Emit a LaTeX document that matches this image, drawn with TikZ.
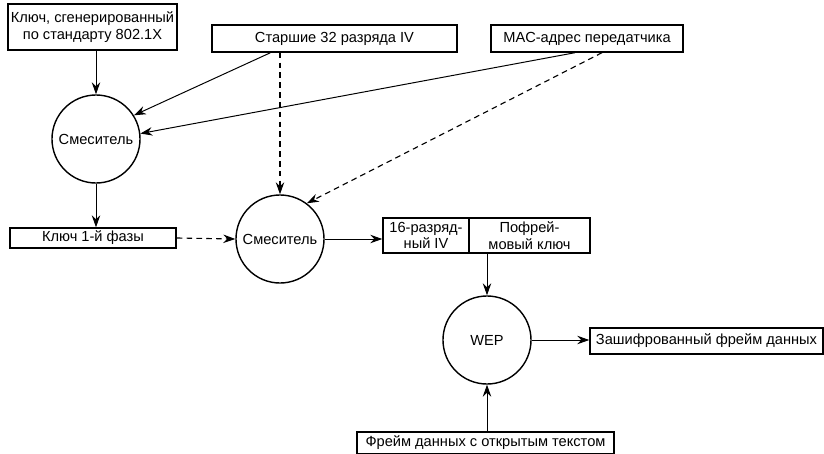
\documentclass[tikz,border=0pt]{standalone}
\usepackage{fontspec}
\setmainfont{Liberation Sans}
\usepackage{tikz}
\usetikzlibrary{arrows.meta,positioning}

\begin{document}
\begin{tikzpicture}[
  x=0.025cm, y=-0.025cm,
  >={Stealth[length=8.5pt,width=6pt]},
  every node/.style={font=\fontsize{10.4}{11.8}\selectfont},
  srcbox/.style={draw, line width=1pt, inner sep=1pt, align=center},
  mixer/.style={draw, circle, line width=1pt, minimum size=2.2cm, inner sep=0pt},
  flow/.style={->, line width=0.7pt},
  dflow/.style={->, line width=0.8pt, dash pattern=on 4pt off 3pt}
]
\useasboundingbox (0,0) rectangle (824,454);

%% Inputs (top row)
\node[srcbox, minimum width=4.225cm, minimum height=1.15cm] (gen) at (92.5,27)
  {Ключ, сгенерированный\\по стандарту 802.1X};
\node[srcbox, minimum width=6.125cm, minimum height=0.675cm] (hi32) at (334.5,38.5)
  {Старшие 32 разряда IV};
\node[srcbox, minimum width=4.8cm, minimum height=0.675cm] (mac) at (587,38.5)
  {MAC-адрес передатчика};

%% Phase 1 mixer
\node[mixer] (mix1) at (96,139) {Смеситель};
\node[srcbox, minimum width=4.15cm, minimum height=0.5cm] (phase) at (93,238)
  {Ключ 1-й фазы};

%% Phase 2 mixer
\node[mixer] (mix2) at (280,239) {Смеситель};
\node[srcbox, minimum width=2.15cm, minimum height=0.875cm] (iv) at (426,235.5)
  {16-разряд-\\ный IV};
\node[srcbox, minimum width=3.025cm, minimum height=0.875cm] (key) at (529.5,235.5)
  {Пофрей-\\мовый ключ};

%% WEP
\node[mixer] (wep) at (487,340) {WEP};
\node[srcbox, minimum width=5.825cm, minimum height=0.65cm] (enc) at (706.5,341)
  {Зашифрованный фрейм данных};
\node[srcbox, minimum width=6.425cm, minimum height=0.55cm] (plain) at (485.5,443)
  {Фрейм данных с открытым текстом};

%% Connectors
\draw[flow] (gen.south -| mix1.north) -- (mix1.north);
\draw[flow] ([xshift=-1.6cm]hi32.south) -- (mix1.32);
\draw[flow] ([xshift=-0.3cm]mac.south) -- (mix1.7);
\draw[flow] (mix1.south) -- (mix1.south |- phase.north);

\draw[dflow] (hi32.south -| mix2.north) -- (mix2.north);
\draw[dflow] ([xshift=0.375cm]mac.south) -- (mix2.53);
\draw[dflow] (phase.east) -- (mix2.west);

\draw[flow] (mix2.east) -- (mix2.east -| iv.west);
\draw[flow] (key.south -| wep.north) -- (wep.north);
\draw[flow] (wep.east) -- (wep.east -| enc.west);
\draw[flow] (plain.north -| wep.south) -- (wep.south);

\end{tikzpicture}
\end{document}
